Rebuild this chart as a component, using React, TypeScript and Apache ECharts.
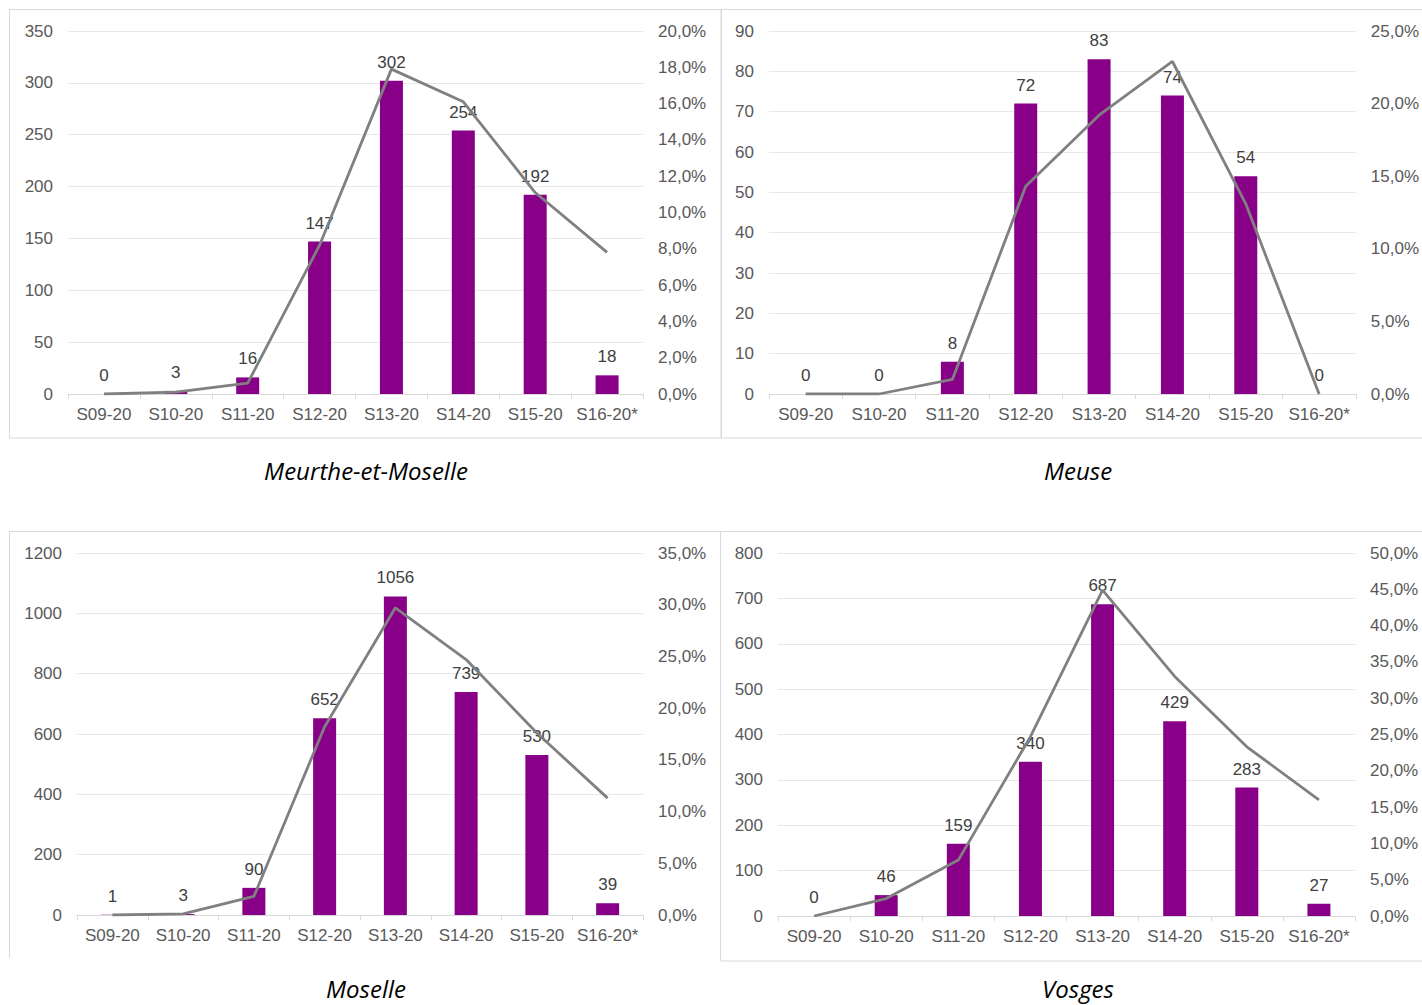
import React, { useEffect, useRef } from "react";
import * as echarts from "echarts";

const categories = ["S09-20", "S10-20", "S11-20", "S12-20", "S13-20", "S14-20", "S15-20", "S16-20*"];

const mmCases = [0, 3, 16, 147, 302, 254, 192, 18];
const mmRate = [0, 0.1, 0.6, 8.2, 17.9, 16.1, 11.1, 7.8];

const meuseCases = [0, 0, 8, 72, 83, 74, 54, 0];
const meuseRate = [0, 0, 1.0, 14.3, 19.2, 22.9, 13.1, 0];

const moselleCases = [1, 3, 90, 652, 1056, 739, 530, 39];
const moselleRate = [0, 0.1, 1.8, 18.2, 29.7, 24.7, 17.6, 11.3];

const vosgesCases = [0, 46, 159, 340, 687, 429, 283, 27];
const vosgesRate = [0, 2.4, 7.7, 24.7, 44.9, 33.0, 23.3, 16.0];

const titles = ["Meurthe-et-Moselle", "Meuse", "Moselle", "Vosges"];
const leftMax = [350, 90, 1200, 800];
const leftInterval = [50, 10, 200, 100];
const rightMax = [20, 25, 35, 50];
const rightInterval = [2, 5, 5, 5];

const panels = [
  { cases: mmCases, rate: mmRate },
  { cases: meuseCases, rate: meuseRate },
  { cases: moselleCases, rate: moselleRate },
  { cases: vosgesCases, rate: vosgesRate },
];

const grids = [
  { left: 68, top: 31, width: 575, height: 363 },
  { left: 769, top: 31, width: 587, height: 363 },
  { left: 77, top: 553, width: 566, height: 362 },
  { left: 778, top: 553, width: 577, height: 363 },
];

const FONT = "'Liberation Sans', Arial, sans-serif";
const AXIS_COLOR = "#595959";
const PURPLE = "#880088";

export default function App() {
  const ref = useRef<HTMLDivElement>(null);

  useEffect(() => {
    if (!ref.current) return;
    const chart = echarts.init(ref.current, undefined, { renderer: "svg" });

    const xAxis: any[] = [];
    const yAxis: any[] = [];
    const series: any[] = [];

    panels.forEach((p, i) => {
      xAxis.push({
        type: "category",
        gridIndex: i,
        data: categories,
        boundaryGap: true,
        axisLine: { show: true, lineStyle: { color: "#d9d9d9", width: 1 } },
        axisTick: { show: true, alignWithLabel: false, length: 5, lineStyle: { color: "#d9d9d9" } },
        axisLabel: { color: AXIS_COLOR, fontSize: 17, fontFamily: FONT, margin: 12, interval: 0 },
      });
      yAxis.push({
        type: "value",
        gridIndex: i,
        min: 0,
        max: leftMax[i],
        interval: leftInterval[i],
        axisLine: { show: false },
        axisTick: { show: false },
        splitLine: { show: true, lineStyle: { color: "#e8e8e8", width: 1 } },
        axisLabel: {
          color: AXIS_COLOR,
          fontSize: 17,
          fontFamily: FONT,
          margin: 15,
          formatter: (v: number) => String(v),
        },
      });
      yAxis.push({
        type: "value",
        gridIndex: i,
        position: "right",
        min: 0,
        max: rightMax[i],
        interval: rightInterval[i],
        axisLine: { show: false },
        axisTick: { show: false },
        splitLine: { show: false },
        axisLabel: {
          color: AXIS_COLOR,
          fontSize: 17,
          fontFamily: FONT,
          margin: 15,
          formatter: (v: number) => v.toFixed(1).replace(".", ",") + "%",
        },
      });
      series.push({
        type: "bar",
        xAxisIndex: i,
        yAxisIndex: i * 2,
        data: p.cases,
        barWidth: 23,
        itemStyle: { color: PURPLE },
        label: {
          show: true,
          position: "top",
          distance: 10,
          color: "#404040",
          fontSize: 17,
          fontFamily: FONT,
        },
        z: 2,
      });
      series.push({
        type: "line",
        xAxisIndex: i,
        yAxisIndex: i * 2 + 1,
        data: p.rate,
        symbol: "none",
        lineStyle: { color: "#808080", width: 2.8 },
        z: 3,
      });
    });

    const border = "#d9d9d9";
    const graphic: any[] = [
      { type: "rect", shape: { x: 9.5, y: 9.5, width: 711.5, height: 428.5 }, style: { fill: "none", stroke: border, lineWidth: 1 }, silent: true },
      { type: "rect", shape: { x: 721.5, y: 9.5, width: 710, height: 428.5 }, style: { fill: "none", stroke: border, lineWidth: 1 }, silent: true },
      {
        type: "polyline",
        shape: { points: [[9.5, 958], [9.5, 531.5], [720.5, 531.5]] },
        style: { fill: "none", stroke: border, lineWidth: 1 },
        silent: true,
      },
      { type: "rect", shape: { x: 720.5, y: 531.5, width: 711, height: 429.5 }, style: { fill: "none", stroke: border, lineWidth: 1 }, silent: true },
    ];
    const titlePos = [
      [366, 470],
      [1078, 470],
      [366, 988],
      [1078, 988],
    ];
    titles.forEach((t, i) => {
      graphic.push({
        type: "text",
        x: titlePos[i][0],
        y: titlePos[i][1],
        style: {
          text: t,
          fill: "#000000",
          font: "italic 24px 'Open Sans', 'Noto Sans', sans-serif",
          textAlign: "center",
          textVerticalAlign: "middle",
        },
        silent: true,
      });
    });

    chart.setOption({
      animation: false,
      backgroundColor: "#ffffff",
      grid: grids.map((g) => ({ ...g, containLabel: false })),
      xAxis,
      yAxis,
      series,
      graphic,
    });

    return () => chart.dispose();
  }, []);

  return (
    <div
      ref={ref}
      style={{ position: "absolute", left: 0, top: 0, width: 1422, height: 1005 }}
    />
  );
}
